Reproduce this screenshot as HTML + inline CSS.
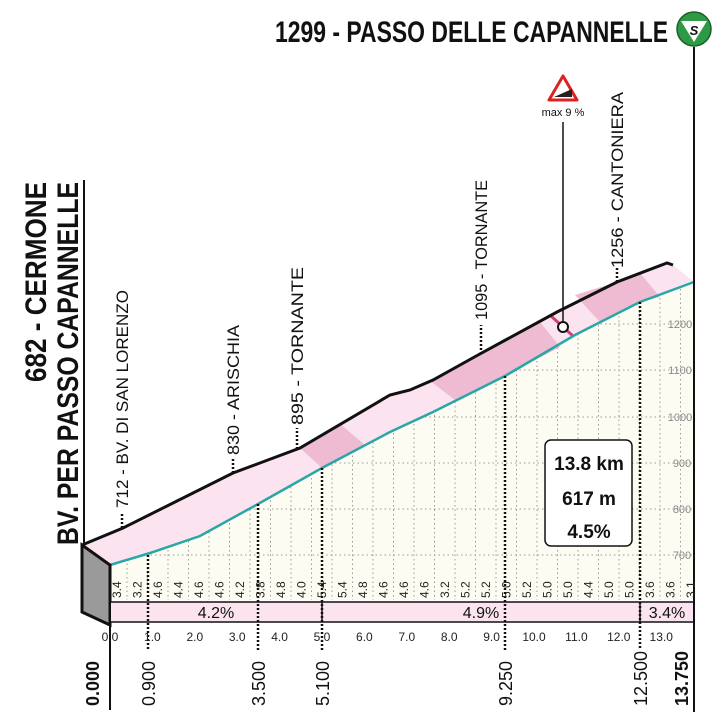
<!DOCTYPE html>
<html><head><meta charset="utf-8"><style>
html,body{margin:0;padding:0;background:#fff}
svg{display:block}
text{font-family:"Liberation Sans Narrow","Liberation Sans",sans-serif}
</style></head><body>
<svg width="728" height="721" viewBox="0 0 728 721" xmlns="http://www.w3.org/2000/svg">
<defs><clipPath id="cp"><polygon points="110,565 150,553 200,536 258,504 322,468 390,432 433,412 505,376 575,335 640,302 694,282 694,600 110,600"/></clipPath></defs>
<polygon points="110,565 150,553 200,536 258,504 322,468 390,432 433,412 505,376 575,335 640,302 694,282 694,600 110,600" fill="#fdfcf2"/>
<g clip-path="url(#cp)" stroke="#9a9a9a" stroke-width="1" stroke-dasharray="1.5,3">
<line x1="110" y1="555" x2="694" y2="555"/><line x1="110" y1="509" x2="694" y2="509"/>
<line x1="110" y1="463" x2="694" y2="463"/><line x1="110" y1="417" x2="694" y2="417"/>
<line x1="110" y1="370" x2="694" y2="370"/><line x1="110" y1="324" x2="694" y2="324"/>
<line x1="127" y1="280" x2="127" y2="600"/><line x1="147.5" y1="280" x2="147.5" y2="600"/><line x1="168" y1="280" x2="168" y2="600"/><line x1="188.5" y1="280" x2="188.5" y2="600"/><line x1="209" y1="280" x2="209" y2="600"/><line x1="229.5" y1="280" x2="229.5" y2="600"/><line x1="250" y1="280" x2="250" y2="600"/><line x1="270.5" y1="280" x2="270.5" y2="600"/><line x1="291" y1="280" x2="291" y2="600"/><line x1="311.5" y1="280" x2="311.5" y2="600"/><line x1="332" y1="280" x2="332" y2="600"/><line x1="352.5" y1="280" x2="352.5" y2="600"/><line x1="373" y1="280" x2="373" y2="600"/><line x1="393.5" y1="280" x2="393.5" y2="600"/><line x1="414" y1="280" x2="414" y2="600"/><line x1="434.5" y1="280" x2="434.5" y2="600"/><line x1="455" y1="280" x2="455" y2="600"/><line x1="475.5" y1="280" x2="475.5" y2="600"/><line x1="496" y1="280" x2="496" y2="600"/><line x1="516.5" y1="280" x2="516.5" y2="600"/><line x1="537" y1="280" x2="537" y2="600"/><line x1="557.5" y1="280" x2="557.5" y2="600"/><line x1="578" y1="280" x2="578" y2="600"/><line x1="598.5" y1="280" x2="598.5" y2="600"/><line x1="619" y1="280" x2="619" y2="600"/><line x1="639.5" y1="280" x2="639.5" y2="600"/><line x1="660" y1="280" x2="660" y2="600"/><line x1="680.5" y1="280" x2="680.5" y2="600"/>
</g>
<polygon points="82,545 123,528 233,473 300,448 390,395 410,390 433,380 478,355 557,312 617,282 667,263 673,265 694,282 640,302 575,335 505,376 433,412 390,432 322,468 258,504 200,536 150,553 110,565" fill="#fbe4ef"/>
<polygon points="300,448 340,424 365,445 322,468" fill="#eebbd3"/>
<polygon points="430,381 478,355 540,322 560,347 505,376 455,400" fill="#eebbd3"/>
<polygon points="575,295 617,282 640,273 660,297 640,302 600,322" fill="#eebbd3"/>
<line x1="551" y1="316" x2="573" y2="336" stroke="#d0407a" stroke-width="3"/>
<polyline points="82,545 123,528 233,473 300,448 390,395 410,390 433,380 478,355 557,312 617,282 667,263 673,265" fill="none" stroke="#111" stroke-width="3"/>
<polyline points="110,565 150,553 200,536 258,504 322,468 390,432 433,412 505,376 575,335 640,302 694,282" fill="none" stroke="#2aa6a6" stroke-width="2.5"/>
<polygon points="82,545 110,565 110,625 82,612" fill="#9a9a9a" stroke="#111" stroke-width="3"/>
<line x1="84" y1="180" x2="84" y2="545" stroke="#111" stroke-width="2"/>
<rect x="110" y="602" width="584" height="20" fill="#fbe4ef"/>
<line x1="110" y1="602" x2="694" y2="602" stroke="#111" stroke-width="1.5"/>
<line x1="110" y1="622" x2="694" y2="622" stroke="#111" stroke-width="1.5"/>
<line x1="322" y1="602" x2="322" y2="622" stroke="#111" stroke-width="1.5"/>
<line x1="640" y1="602" x2="640" y2="622" stroke="#111" stroke-width="1.5"/>
<g font-size="16" text-anchor="middle" fill="#111">
<text x="216" y="618">4.2%</text><text x="481" y="618">4.9%</text><text x="667" y="618">3.4%</text>
</g>
<line x1="110" y1="565" x2="110" y2="710" stroke="#111" stroke-width="2"/>
<line x1="694" y1="47" x2="694" y2="712" stroke="#111" stroke-width="2"/>
<g stroke="#111" stroke-width="2.5" stroke-dasharray="2,2">
<line x1="148" y1="555" x2="148" y2="650"/><line x1="258" y1="504" x2="258" y2="650"/>
<line x1="322" y1="468" x2="322" y2="650"/><line x1="505" y1="376" x2="505" y2="650"/>
<line x1="640" y1="302" x2="640" y2="650"/>
<line x1="122" y1="528" x2="122" y2="512"/><line x1="233" y1="473" x2="233" y2="458"/>
<line x1="297" y1="449" x2="297" y2="428"/><line x1="481" y1="354" x2="481" y2="325"/>
<line x1="617" y1="282" x2="617" y2="268"/>
</g>
<g font-size="12" fill="#222">
<text transform="translate(121,598) rotate(-90)">3.4</text><text transform="translate(141.5,598) rotate(-90)">3.2</text><text transform="translate(162,598) rotate(-90)">4.6</text><text transform="translate(182.5,598) rotate(-90)">4.4</text><text transform="translate(203,598) rotate(-90)">4.6</text><text transform="translate(223.5,598) rotate(-90)">4.6</text><text transform="translate(244,598) rotate(-90)">4.2</text><text transform="translate(264.5,598) rotate(-90)">3.8</text><text transform="translate(285,598) rotate(-90)">4.8</text><text transform="translate(305.5,598) rotate(-90)">4.0</text><text transform="translate(326,598) rotate(-90)">5.4</text><text transform="translate(346.5,598) rotate(-90)">5.4</text><text transform="translate(367,598) rotate(-90)">4.8</text><text transform="translate(387.5,598) rotate(-90)">4.6</text><text transform="translate(408,598) rotate(-90)">4.6</text><text transform="translate(428.5,598) rotate(-90)">4.6</text><text transform="translate(449,598) rotate(-90)">3.2</text><text transform="translate(469.5,598) rotate(-90)">5.2</text><text transform="translate(490,598) rotate(-90)">5.2</text><text transform="translate(510.5,598) rotate(-90)">5.0</text><text transform="translate(531,598) rotate(-90)">5.2</text><text transform="translate(551.5,598) rotate(-90)">5.0</text><text transform="translate(572,598) rotate(-90)">5.0</text><text transform="translate(592.5,598) rotate(-90)">4.4</text><text transform="translate(613,598) rotate(-90)">5.0</text><text transform="translate(633.5,598) rotate(-90)">5.0</text><text transform="translate(654,598) rotate(-90)">3.6</text><text transform="translate(674.5,598) rotate(-90)">3.6</text><text transform="translate(695,598) rotate(-90)">3.1</text>
</g>
<g font-size="12" fill="#222" text-anchor="middle">
<text x="110" y="641">0.0</text><text x="152.4" y="641">1.0</text><text x="194.8" y="641">2.0</text><text x="237.2" y="641">3.0</text><text x="279.6" y="641">4.0</text><text x="322" y="641">5.0</text><text x="364.4" y="641">6.0</text><text x="406.8" y="641">7.0</text><text x="449.2" y="641">8.0</text><text x="491.6" y="641">9.0</text><text x="534" y="641">10.0</text><text x="576.4" y="641">11.0</text><text x="618.8" y="641">12.0</text><text x="661.2" y="641">13.0</text>
</g>
<g font-size="18" fill="#111">
<text transform="translate(99,706) rotate(-90)" font-weight="bold">0.000</text>
<text transform="translate(155,706) rotate(-90)">0.900</text>
<text transform="translate(265,706) rotate(-90)">3.500</text>
<text transform="translate(329,706) rotate(-90)">5.100</text>
<text transform="translate(512,706) rotate(-90)">9.250</text>
<text transform="translate(647,706) rotate(-90)">12.500</text>
<text transform="translate(688,706) rotate(-90)" font-weight="bold">13.750</text>
</g>
<g font-size="11" fill="#888" text-anchor="middle">
<text x="682" y="559">700</text><text x="682" y="513">800</text><text x="682" y="467">900</text>
<text x="680" y="421">1000</text><text x="680" y="374">1100</text><text x="680" y="328">1200</text>
</g>
<g font-size="17" fill="#111">
<text transform="translate(128,508) rotate(-90)" textLength="218" lengthAdjust="spacingAndGlyphs">712 - BV. DI SAN LORENZO</text>
<text transform="translate(239,455) rotate(-90)" textLength="130" lengthAdjust="spacingAndGlyphs">830 - ARISCHIA</text>
<text transform="translate(303,425) rotate(-90)" textLength="158" lengthAdjust="spacingAndGlyphs">895 - TORNANTE</text>
<text transform="translate(487,320) rotate(-90)" textLength="140" lengthAdjust="spacingAndGlyphs">1095 - TORNANTE</text>
<text transform="translate(623,268) rotate(-90)" textLength="176" lengthAdjust="spacingAndGlyphs">1256 - CANTONIERA</text>
</g>
<g font-size="30" font-weight="bold" fill="#111">
<text transform="translate(46,382) rotate(-90)" textLength="200" lengthAdjust="spacingAndGlyphs">682 - CERMONE</text>
<text transform="translate(78,545) rotate(-90)" textLength="363" lengthAdjust="spacingAndGlyphs">BV. PER PASSO CAPANNELLE</text>
</g>
<text x="275" y="42" font-size="30" font-weight="bold" fill="#111" textLength="393" lengthAdjust="spacingAndGlyphs">1299 - PASSO DELLE CAPANNELLE</text>
<circle cx="694" cy="29" r="17" fill="#2e9a45" stroke="#1a5f2a" stroke-width="1.5"/>
<polygon points="681,21 707,21 694,42" fill="#fff"/>
<text x="694" y="35" font-size="13" font-weight="bold" text-anchor="middle" fill="#111" font-style="italic">S</text>
<polygon points="563,76 549,100 577,100" fill="#fff" stroke="#e02020" stroke-width="3" stroke-linejoin="round"/>
<polygon points="554,97 572,97 572,89" fill="#222"/>
<text x="563" y="116" font-size="11" text-anchor="middle" fill="#111">max 9 %</text>
<line x1="563" y1="122" x2="563" y2="322" stroke="#111" stroke-width="1.5"/>
<circle cx="563" cy="327" r="5" fill="#fff" stroke="#111" stroke-width="2"/>
<rect x="545" y="440" width="87" height="106" rx="6" fill="#fff" stroke="#111" stroke-width="1.5"/>
<g font-size="19" font-weight="bold" text-anchor="middle" fill="#111">
<text x="589" y="470">13.8 km</text><text x="589" y="505">617 m</text><text x="589" y="538">4.5%</text>
</g>
</svg>
</body></html>
